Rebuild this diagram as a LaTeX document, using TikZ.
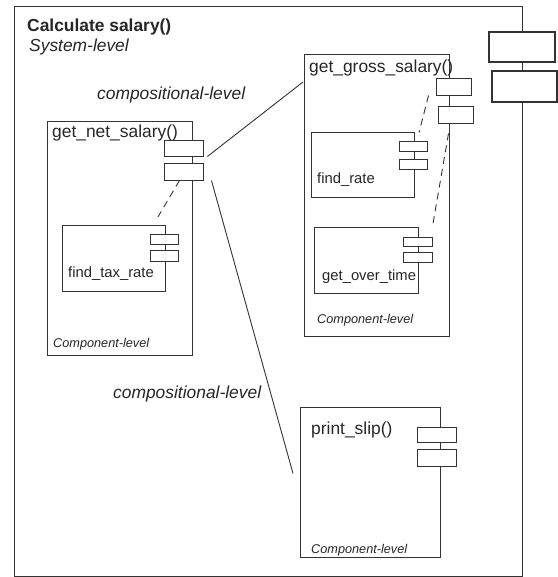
\documentclass[tikz,border=0pt]{standalone}
\usepackage{fontspec}
\setmainfont{Liberation Sans}

\tikzset{
  comp/.style={draw=black!80, line width=0.9pt, inner sep=0pt, anchor=north west},
  port/.style={draw=black!80, line width=0.9pt, fill=white, inner sep=0pt},
  lbl/.style={anchor=base west, inner sep=0pt, text=black!85, font=\fontsize{17.4}{20}\selectfont},
  sublbl/.style={lbl, font=\fontsize{14.8}{17}\selectfont},
  lvl/.style={anchor=base west, inner sep=0pt, text=black!85, font=\fontsize{12.7}{15}\selectfont\itshape},
  link/.style={black!80, line width=0.9pt},
  dep/.style={link, dash pattern=on 7pt off 5pt},
}

\begin{document}
\begin{tikzpicture}[x=1pt,y=-1pt]
  \useasboundingbox (0,0) rectangle (557,577);

  % system frame
  \node[comp, line width=1.3pt, minimum width=508pt, minimum height=570pt] (sys) at (14,6) {};
  \node[lbl, font=\fontsize{17.4}{20}\selectfont\bfseries] (sys-name) at (27,32) {Calculate salary()};
  \node[lbl, font=\fontsize{17.4}{20}\selectfont\itshape] (sys-lvl) at (29,52) {System-level};
  \node[port, line width=1.3pt, minimum width=66pt, minimum height=30pt] (sys-p1) at (522,47) {};
  \node[port, line width=1.3pt, minimum width=65pt, minimum height=31pt] (sys-p2) at (524.5,86.5) {};

  % components
  \node[comp, minimum width=145pt, minimum height=234pt] (net) at (47,121) {};
  \node[comp, minimum width=103pt, minimum height=66pt] (taxrate) at (62,225) {};
  \node[comp, minimum width=145pt, minimum height=282pt] (gross) at (304,54) {};
  \node[comp, minimum width=103pt, minimum height=65pt] (findrate) at (311,132) {};
  \node[comp, minimum width=104pt, minimum height=66pt] (overtime) at (314,227) {};
  \node[comp, minimum width=140pt, minimum height=150pt] (print) at (300,407) {};

  % names
  \node[lbl] (net-name) at (52,138) {get\_net\_salary()};
  \node[sublbl] (taxrate-name) at (68,277) {find\_tax\_rate};
  \node[lbl] (gross-name) at (309,73) {get\_gross\_salary()};
  \node[sublbl] (findrate-name) at (317,183) {find\_rate};
  \node[sublbl] (overtime-name) at (322,280) {get\_over\_time};
  \node[lbl] (print-name) at (311,434) {print\_slip()};

  \node[lvl] (net-lvl) at (53,347) {Component-level};
  \node[lvl] (gross-lvl) at (317,323) {Component-level};
  \node[lvl] (print-lvl) at (311,553) {Component-level};

  \node[lbl, font=\fontsize{17.4}{20}\selectfont\itshape] (comp-top) at (97,100) {compositional-level};
  \node[lbl, font=\fontsize{17.4}{20}\selectfont\itshape] (comp-bot) at (113,398) {compositional-level};

  % ports
  \node[port, minimum width=39pt, minimum height=16pt] (net-p1) at (183.5,148) {};
  \node[port, minimum width=39pt, minimum height=17pt] (net-p2) at (183.5,171.5) {};
  \node[port, minimum width=28pt, minimum height=10pt] (taxrate-p1) at (164,239) {};
  \node[port, minimum width=28pt, minimum height=11pt] (taxrate-p2) at (164,255.5) {};
  \node[port, minimum width=35pt, minimum height=17pt] (gross-p1) at (453.5,86.5) {};
  \node[port, minimum width=35pt, minimum height=17pt] (gross-p2) at (455.5,114.5) {};
  \node[port, minimum width=28pt, minimum height=10pt] (findrate-p1) at (413,146) {};
  \node[port, minimum width=28pt, minimum height=10pt] (findrate-p2) at (413,164) {};
  \node[port, minimum width=29pt, minimum height=9pt] (overtime-p1) at (417.5,241.5) {};
  \node[port, minimum width=29pt, minimum height=10pt] (overtime-p2) at (417.5,257) {};
  \node[port, minimum width=39pt, minimum height=15pt] (print-p1) at (436.5,434.5) {};
  \node[port, minimum width=39pt, minimum height=17pt] (print-p2) at (436.5,457.5) {};

  % connectors
  \draw[link] ([xshift=4pt]net-p1.south east) -- ([shift={(-1pt,-28pt)}]gross.north west);
  \draw[link] ([xshift=8pt]net-p2.south east) -- ([shift={(-7pt,9pt)}]print.west);
  \draw[dep] ([xshift=-4pt]net-p2.south) -- ([shift={(-8pt,8pt)}]taxrate.north east);
  \draw[dep] ([xshift=-7pt]gross-p1.south west) -- ([shift={(6pt,8pt)}]findrate-p1.north);
  \draw[dep] ([shift={(-7pt,-10pt)}]gross-p2.south) -- ([shift={(15pt,10pt)}]overtime-p1.north);
\end{tikzpicture}
\end{document}
